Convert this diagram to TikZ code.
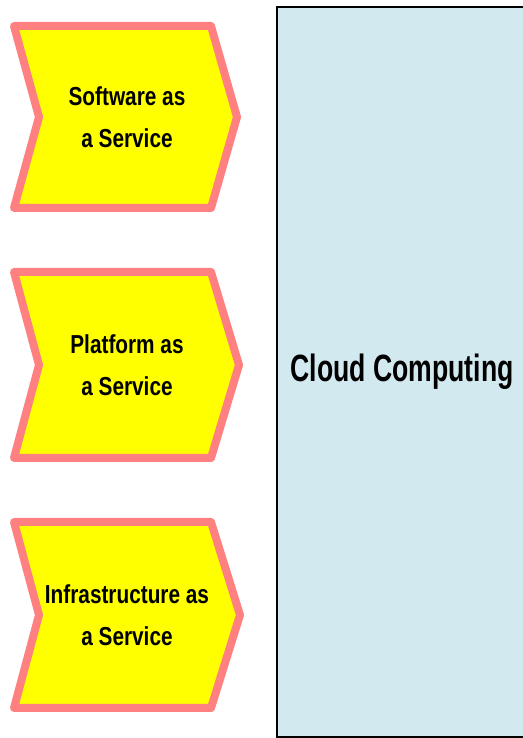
\documentclass[tikz,border=0pt]{standalone}
\usepackage{fontspec}
\setmainfont{Liberation Sans}
\definecolor{chevfill}{RGB}{255,255,0}
\definecolor{chevline}{RGB}{255,128,128}
\definecolor{cloudfill}{RGB}{209,233,239}
\begin{document}
\begin{tikzpicture}[x=1pt,y=1pt,
  chevron/.style={fill=chevfill, draw=chevline, line width=8pt, line join=round},
  chevtext/.style={font=\bfseries\fontsize{26}{42}\selectfont, align=center,
    xscale=0.8, transform shape, inner sep=0pt},
  cloudbox/.style={fill=cloudfill, draw=black, line width=2pt},
  cloudtext/.style={font=\bfseries\fontsize{38}{44}\selectfont,
    xscale=0.7, transform shape, inner sep=0pt}]
\useasboundingbox (0,0) rectangle (522,738);

% large platform box, running off the right edge
\draw[cloudbox] (277,1) rectangle (540,731);
\node[cloudtext] (cloud) at (402,366) {Cloud Computing};

% service chevrons: vertical middle / half height / tip x
\foreach \m/\h/\tip in {621/91/237, 373/93/239, 123/93/240}{
  \draw[chevron] (14,\m+\h) -- (211,\m+\h) -- (\tip,\m) -- (211,\m-\h)
    -- (14,\m-\h) -- (39,\m) -- cycle;
}
\node[chevtext] (saas) at (127,621) {Software as\\a Service};
\node[chevtext] (paas) at (127,373) {Platform as\\a Service};
\node[chevtext] (iaas) at (127,123) {Infrastructure as\\a Service};
\end{tikzpicture}
\end{document}
